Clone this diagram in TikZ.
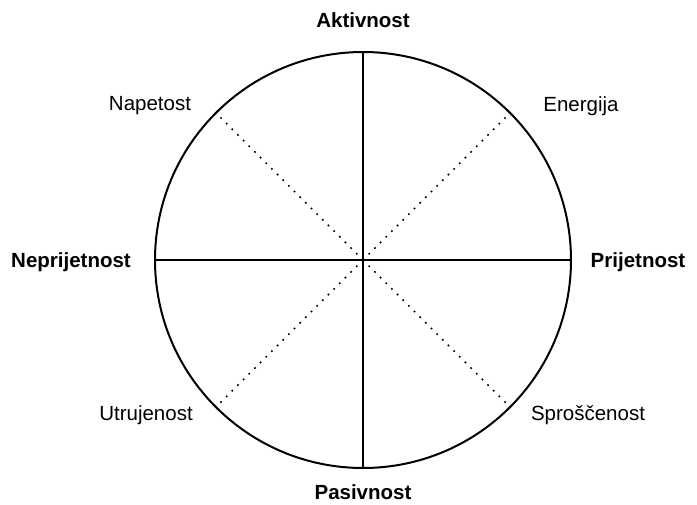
\documentclass[tikz,border=0pt]{standalone}
\usepackage{fontspec}
\setmainfont{Liberation Sans}
\usetikzlibrary{positioning}

\begin{document}
\begin{tikzpicture}[
  x=1pt,y=-1pt,
  every node/.style={font=\fontsize{20.5}{22}\selectfont,inner sep=0pt},
  axislabel/.style={font=\fontsize{20.5}{22}\selectfont\bfseries},
  axis/.style={line width=2pt},
  diag/.style={line width=1.7pt,dash pattern=on 1.7pt off 6.3pt}
]
  \useasboundingbox (0,0) rectangle (697,504);
  \coordinate (c) at (363,260);
  \draw[axis] (c) circle (208);
  % main axes
  \coordinate (top) at (363,52);
  \coordinate (bot) at (363,468);
  \coordinate (lft) at (155,260);
  \coordinate (rgt) at (571,260);
  \draw[axis] (top) -- (bot);
  \draw[axis] (lft) -- (rgt);
  % diagonals
  \foreach \a in {45,135,225,315}
    \draw[diag] (c) -- ++({208*cos(\a)},{-208*sin(\a)});
  \node[axislabel] (akt) at (363,20) {Aktivnost};
  \node[axislabel] (pas) at (363,492) {Pasivnost};
  \node[axislabel] (nep) at (71,262) {Neprijetnost};
  \node[axislabel] (pri) at (638,262) {Prijetnost};
  \node (nap) at (150,106) {Napetost};
  \node (ene) at (581,106) {Energija};
  \node (utr) at (146,415) {Utrujenost};
  \node (spr) at (588,415) {Sproščenost};
\end{tikzpicture}
\end{document}
